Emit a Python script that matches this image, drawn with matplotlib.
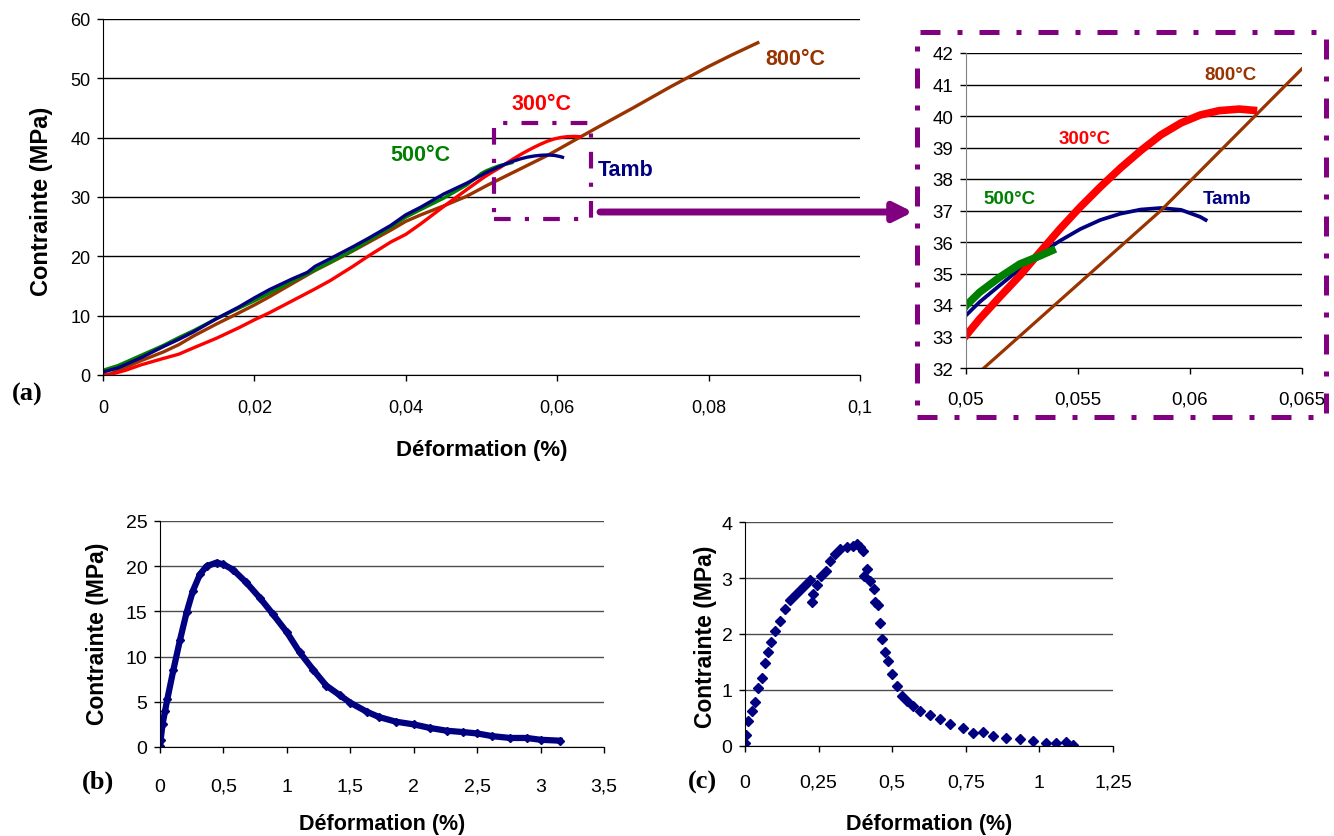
import matplotlib
matplotlib.use('Agg')
import matplotlib.pyplot as plt
from matplotlib.patches import Rectangle, FancyArrowPatch

# --- data ---
# (a) main chart, strain (%) / stress (MPa)
tamb_x = [0, 0.002, 0.005, 0.008, 0.01, 0.012, 0.015, 0.018, 0.02, 0.022, 0.025, 0.027, 0.028,
          0.03, 0.033, 0.035, 0.038, 0.04, 0.042, 0.045, 0.048, 0.05, 0.0506, 0.0515, 0.0524,
          0.0533, 0.0542, 0.0551, 0.056, 0.0569, 0.0578, 0.0587, 0.0596, 0.06045, 0.0607]
tamb_y = [0.5, 1.2, 2.9, 4.8, 6.0, 7.3, 9.5, 11.5, 13.0, 14.4, 16.2, 17.3, 18.3,
          19.6, 21.6, 23.0, 25.2, 27.0, 28.3, 30.5, 32.3, 33.67, 34.09, 34.62, 35.14,
          35.62, 36.04, 36.41, 36.7, 36.9, 37.03, 37.08, 37.02, 36.8, 36.7]
t500_x = [0, 0.002, 0.005, 0.008, 0.01, 0.012, 0.015, 0.018, 0.02, 0.022, 0.025, 0.028, 0.03,
          0.033, 0.035, 0.038, 0.04, 0.042, 0.045, 0.048, 0.05, 0.0506, 0.0515, 0.0524,
          0.0533, 0.054]
t500_y = [0.8, 1.6, 3.3, 5.0, 6.3, 7.5, 9.5, 11.3, 12.5, 13.8, 15.8, 17.7, 19.0,
          21.0, 22.6, 24.9, 26.6, 27.9, 29.8, 32.0, 33.98, 34.4, 34.88, 35.3,
          35.56, 35.78]
t300_x = [0, 0.001, 0.003, 0.005, 0.008, 0.01, 0.012, 0.015, 0.018, 0.02, 0.022, 0.025, 0.028,
          0.03, 0.033, 0.035, 0.038, 0.04, 0.042, 0.045, 0.048, 0.05, 0.0506, 0.0515, 0.0524,
          0.0533, 0.0542, 0.0551, 0.056, 0.0569, 0.0578, 0.0587, 0.0596, 0.06045, 0.0613,
          0.0622, 0.063]
t300_y = [0, 0.1, 0.8, 1.7, 2.8, 3.5, 4.6, 6.2, 8.0, 9.3, 10.5, 12.5, 14.5,
          15.9, 18.3, 20.0, 22.4, 23.7, 25.5, 28.4, 31.2, 33.03, 33.55, 34.25, 34.93,
          35.68, 36.42, 37.11, 37.75, 38.35, 38.9, 39.4, 39.78, 40.03, 40.17,
          40.22, 40.17]
t800_x = [0, 0.001, 0.003, 0.005, 0.008, 0.01, 0.012, 0.015, 0.018, 0.02, 0.022, 0.025, 0.028,
          0.03, 0.033, 0.035, 0.038, 0.04, 0.042, 0.045, 0.048, 0.0508, 0.0587, 0.065,
          0.07, 0.075, 0.08, 0.083, 0.0865]
t800_y = [0, 0.2, 1.3, 2.4, 3.9, 5.1, 6.6, 8.6, 10.5, 11.8, 13.2, 15.4, 17.6,
          18.9, 20.9, 22.3, 24.4, 25.9, 27.0, 28.5, 30.1, 32.0, 37.0, 41.5,
          45.0, 48.6, 52.0, 53.9, 56.0]

# (b)
b_x = [0, 0.005, 0.02, 0.04, 0.058, 0.105, 0.157, 0.21, 0.26, 0.315, 0.367, 0.446, 0.5, 0.577,
       0.68, 0.787, 0.89, 1.0, 1.1, 1.21, 1.31, 1.42, 1.5, 1.63, 1.73, 1.86, 2.0, 2.13, 2.26,
       2.39, 2.5, 2.62, 2.76, 2.89, 3.0, 3.15]
b_y = [0.1, 0.8, 2.5, 4.0, 5.3, 8.5, 11.8, 14.9, 17.3, 19.1, 20.0, 20.4, 20.2, 19.6,
       18.2, 16.5, 14.7, 12.7, 10.5, 8.5, 6.8, 5.7, 4.9, 3.9, 3.3, 2.8, 2.5, 2.1, 1.8,
       1.65, 1.5, 1.2, 1.0, 1.0, 0.8, 0.7]

# (c)
c_x = [0, 0.003, 0.011, 0.023, 0.034, 0.045, 0.057, 0.068, 0.079, 0.09, 0.102, 0.119, 0.136,
       0.153, 0.17, 0.187, 0.204, 0.22, 0.226, 0.232, 0.243, 0.257, 0.275, 0.288, 0.305, 0.322,
       0.345, 0.368, 0.379, 0.39, 0.401, 0.405, 0.413, 0.424, 0.438, 0.441, 0.452, 0.458,
       0.467, 0.475, 0.486, 0.498, 0.515, 0.532, 0.549, 0.571, 0.594, 0.628, 0.662, 0.696,
       0.741, 0.775, 0.809, 0.843, 0.888, 0.933, 0.978, 1.024, 1.058, 1.092, 1.114]
c_y = [0.05, 0.2, 0.45, 0.63, 0.78, 1.04, 1.22, 1.49, 1.67, 1.85, 2.06, 2.24, 2.45,
       2.6, 2.69, 2.78, 2.87, 2.96, 2.57, 2.72, 2.87, 3.04, 3.13, 3.31, 3.43, 3.52,
       3.55, 3.57, 3.61, 3.55, 3.49, 3.04, 3.16, 2.95, 2.8, 2.57, 2.51, 2.2,
       1.91, 1.67, 1.52, 1.28, 1.07, 0.9, 0.81, 0.72, 0.63, 0.55, 0.49, 0.39,
       0.33, 0.24, 0.25, 0.18, 0.14, 0.12, 0.09, 0.06, 0.05, 0.07, 0.01]

a_xticks = [0, 0.02, 0.04, 0.06, 0.08, 0.1]
a_xlabels = ['0', '0,02', '0,04', '0,06', '0,08', '0,1']
ins_xticks = [0.05, 0.055, 0.06, 0.065]
ins_xlabels = ['0,05', '0,055', '0,06', '0,065']
b_xticks = [0, 0.5, 1, 1.5, 2, 2.5, 3, 3.5]
b_xlabels = ['0', '0,5', '1', '1,5', '2', '2,5', '3', '3,5']
c_xticks = [0, 0.25, 0.5, 0.75, 1, 1.25]
c_xlabels = ['0', '0,25', '0,5', '0,75', '1', '1,25']

NAVY = '#000080'
GREEN = '#008000'
RED = '#FF0000'
BROWN = '#993300'
PURPLE = '#800080'

plt.rcParams['font.family'] = ['Liberation Sans', 'DejaVu Sans']
NARROW = ['Liberation Sans Narrow', 'Liberation Sans', 'DejaVu Sans']

W, H = 1334, 837
fig = plt.figure(figsize=(W / 100, H / 100), dpi=100)


def box(l, t, r, b):
    return [l / W, 1 - b / H, (r - l) / W, (b - t) / H]


def style(ax, tick_fs, xpad, fam=None):
    ax.spines['top'].set_visible(False)
    ax.spines['right'].set_visible(False)
    ax.yaxis.grid(True, color='k', lw=1)
    ax.set_axisbelow(True)
    ax.tick_params(direction='out', length=4, width=1, labelsize=tick_fs)
    ax.tick_params(axis='x', pad=xpad)
    ax.tick_params(axis='y', pad=5)
    if fam:
        for lab in ax.get_xticklabels() + ax.get_yticklabels():
            lab.set_family(fam)


# ---- (a) main
ax = fig.add_axes(box(103, 20, 860, 376))
ax.plot(t800_x, t800_y, color=BROWN, lw=2.4)
ax.plot(t300_x, t300_y, color=RED, lw=2.4)
ax.plot(t500_x, t500_y, color=GREEN, lw=2.4)
ax.plot(tamb_x, tamb_y, color=NAVY, lw=2.4)
ax.set_xlim(0, 0.1)
ax.set_ylim(0, 60)
ax.set_yticks(range(0, 61, 10))
ax.set_xticks(a_xticks)
ax.set_xticklabels(a_xlabels)
style(ax, 13, 13)
ax.set_xlabel('Déformation (%)', fontsize=16, fontweight='bold')
ax.set_ylabel('Contrainte (MPa)', fontsize=17, fontweight='bold')
ax.xaxis.set_label_coords(0.5, -0.18)
ax.yaxis.set_label_coords(-0.066, 0.49)
lab_kw = dict(fontsize=15.5, fontweight='bold', family=NARROW, ha='left', va='center')
ax.text(0.0875, 53.3, '800°C', color=BROWN, **lab_kw)
ax.text(0.0540, 45.7, '300°C', color=RED, **lab_kw)
ax.text(0.0379, 37.2, '500°C', color=GREEN, **lab_kw)
ax.text(0.0653, 34.7, 'Tamb', color=NAVY, **lab_kw)

# ---- inset (zoom)
ins = fig.add_axes(box(966, 54, 1302, 369))
ins.plot(tamb_x, tamb_y, color=NAVY, lw=2.7)
ins.plot(t800_x, t800_y, color=BROWN, lw=2.3)
ins.plot(t300_x, t300_y, color=RED, lw=5.5, solid_capstyle='butt')
ins.plot(t500_x, t500_y, color=GREEN, lw=5.5, solid_capstyle='butt')
ins.set_xlim(0.05, 0.065)
ins.set_ylim(32, 42)
ins.set_yticks(range(32, 43))
ins.set_xticks(ins_xticks)
ins.set_xticklabels(ins_xlabels)
style(ins, 13.5, 12)
ins.spines['left'].set_color('0.5')
ilab = dict(fontsize=13.5, fontweight='bold', family=NARROW, ha='left', va='center')
ins.text(0.06063, 41.33, '800°C', color=BROWN, **ilab)
ins.text(0.05415, 39.27, '300°C', color=RED, **ilab)
ins.text(0.05076, 37.37, '500°C', color=GREEN, **ilab)
ins.text(0.06058, 37.37, 'Tamb', color=NAVY, **ilab)

# ---- (b)
bx = fig.add_axes(box(160, 522, 604, 748))
bx.plot(b_x, b_y, color=NAVY, lw=4.5, marker='D', ms=4.5)
bx.set_xlim(0, 3.5)
bx.set_ylim(0, 25)
bx.set_yticks(range(0, 26, 5))
bx.set_xticks(b_xticks)
bx.set_xticklabels(b_xlabels)
style(bx, 14, 18, NARROW)
bx.yaxis.grid(True, color='0.3', lw=1)
bx.set_xlabel('Déformation (%)', fontsize=15.5, fontweight='bold')
bx.set_ylabel('Contrainte (MPa)', fontsize=16.5, fontweight='bold')
bx.xaxis.set_label_coords(0.5, -0.29)
bx.yaxis.set_label_coords(-0.115, 0.504)

# ---- (c)
cx = fig.add_axes(box(745, 523, 1113, 747))
cx.plot(c_x, c_y, color=NAVY, marker='D', ms=5, ls='none')
cx.set_xlim(0, 1.25)
cx.set_ylim(0, 4)
cx.set_yticks(range(0, 5))
cx.set_xticks(c_xticks)
cx.set_xticklabels(c_xlabels)
style(cx, 14, 16, NARROW)
cx.yaxis.grid(True, color='0.3', lw=1)
cx.set_xlabel('Déformation (%)', fontsize=15.5, fontweight='bold')
cx.set_ylabel('Contrainte (MPa)', fontsize=16.5, fontweight='bold')
cx.xaxis.set_label_coords(0.5, -0.3)
cx.yaxis.set_label_coords(-0.076, 0.49)

# panel letters
serif = dict(fontsize=19, fontweight='bold', family=['Liberation Serif', 'DejaVu Serif'],
             ha='center', va='center')
fig.text(27 / W, 1 - 394 / H, '(a)', **serif)
fig.text(98 / W, 1 - 782 / H, '(b)', **serif)
fig.text(702 / W, 1 - 782 / H, '(c)', **serif)

# zoom frame, small frame and arrow
dash = (0, (4, 3.4, 1, 3.4))
big = Rectangle((917 / W, 1 - 418 / H), (1326 - 917) / W, (418 - 33) / H,
                transform=fig.transFigure, fill=False, ec=PURPLE, lw=3.6, ls=dash)
fig.add_artist(big)
small = Rectangle((494 / W, 1 - 220 / H), (591 - 494) / W, (220 - 124) / H,
                  transform=fig.transFigure, fill=False, ec=PURPLE, lw=3.0, ls=dash)
fig.add_artist(small)
arr = FancyArrowPatch((600 / W, 1 - 213 / H), (913 / W, 1 - 213 / H), transform=fig.transFigure,
                      arrowstyle='-|>', mutation_scale=28, lw=5, color=PURPLE,
                      shrinkA=0, shrinkB=0)
fig.add_artist(arr)

fig.savefig('out.png', dpi=100)
